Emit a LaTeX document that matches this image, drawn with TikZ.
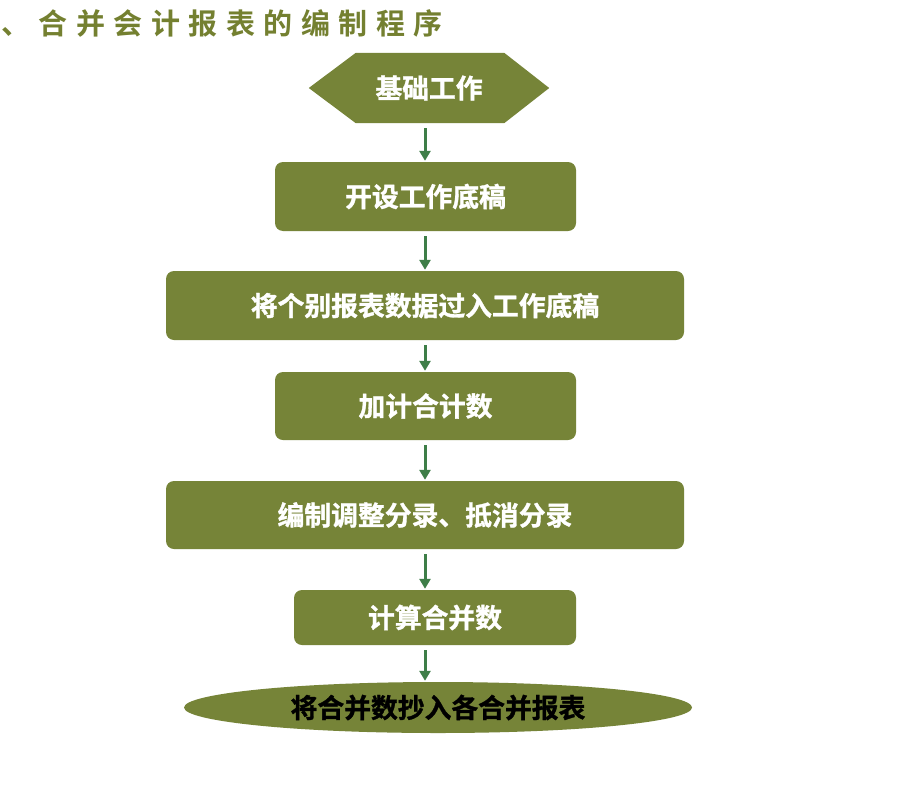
\documentclass[tikz,border=0pt]{standalone}
\usepackage{fontspec}
\setmainfont{Noto Sans CJK SC}[BoldFont={Noto Sans CJK SC Bold}]
\newfontfamily\heavyfont{Noto Sans CJK SC Bold}[FakeBold=1.2]
\newfontfamily\titlefont{Noto Sans CJK SC Bold}
\usetikzlibrary{arrows.meta,shapes.geometric}
\definecolor{olive}{RGB}{118,132,56}
\definecolor{titleolive}{RGB}{116,128,48}
\definecolor{arrgreen}{RGB}{62,126,72}
\newcommand{\tsp}{\hspace{8.5pt}}
\tikzset{
  boxtext/.style={font=\fontsize{26.8}{30}\selectfont\heavyfont},
  boxstyle/.style={fill=olive,rounded corners=8pt,inner sep=0pt,
    text=white,boxtext},
  arr/.style={draw=arrgreen,line width=3pt,
    -{Triangle[width=11pt,length=10pt]},shorten <=5pt,shorten >=1pt}
}
\begin{document}
\begin{tikzpicture}[x=1pt,y=-1pt]
\useasboundingbox (0,0) rectangle (917,792);
\fill[white] (0,0) rectangle (917,792);
% title
\node[anchor=west,inner sep=0pt,text=titleolive,
  font=\fontsize{29}{32}\selectfont\titlefont] (title) at (1,23)
  {、\tsp 合\tsp 并\tsp 会\tsp 计\tsp 报\tsp 表\tsp 的\tsp 编\tsp 制\tsp 程\tsp 序};
% hexagon
\node[minimum width=240pt,minimum height=70pt,inner sep=0pt] (hex) at (429,88) {};
\fill[olive] (hex.west) -- ([xshift=47pt]hex.north west) -- ([xshift=-45pt]hex.north east)
  -- (hex.east) -- ([xshift=-45pt]hex.south east) -- ([xshift=47pt]hex.south west) -- cycle;
\node[text=white,boxtext] (hext) at (hex.center) {基础工作};
% boxes
\node[boxstyle,minimum width=301pt,minimum height=69pt] (b1) at (425.5,196.5) {开设工作底稿};
\node[boxstyle,minimum width=518pt,minimum height=69pt] (b2) at (425,305.5) {将个别报表数据过入工作底稿};
\node[boxstyle,minimum width=301pt,minimum height=68pt] (b3) at (425.5,406) {加计合计数};
\node[boxstyle,minimum width=518pt,minimum height=68pt] (b4) at (425,515) {编制调整分录、抵消分录};
\node[boxstyle,minimum width=282pt,minimum height=55pt] (b5) at (435,617.5) {计算合并数};
\node[ellipse,fill=olive,inner sep=0pt,minimum width=508pt,minimum height=51pt,
  text=black,boxtext] (ell) at (438,707.5) {将合并数抄入各合并报表};
% arrows
\coordinate (ax) at (425,0);
\draw[arr] (hex.south -| ax) -- (b1.north -| ax);
\draw[arr] (b1.south -| ax) -- (b2.north -| ax);
\draw[arr] (b2.south -| ax) -- (b3.north -| ax);
\draw[arr] (b3.south -| ax) -- (b4.north -| ax);
\draw[arr] (b4.south -| ax) -- (b5.north -| ax);
\draw[arr] (b5.south -| ax) -- (ell.north -| ax);
\end{tikzpicture}
\end{document}
